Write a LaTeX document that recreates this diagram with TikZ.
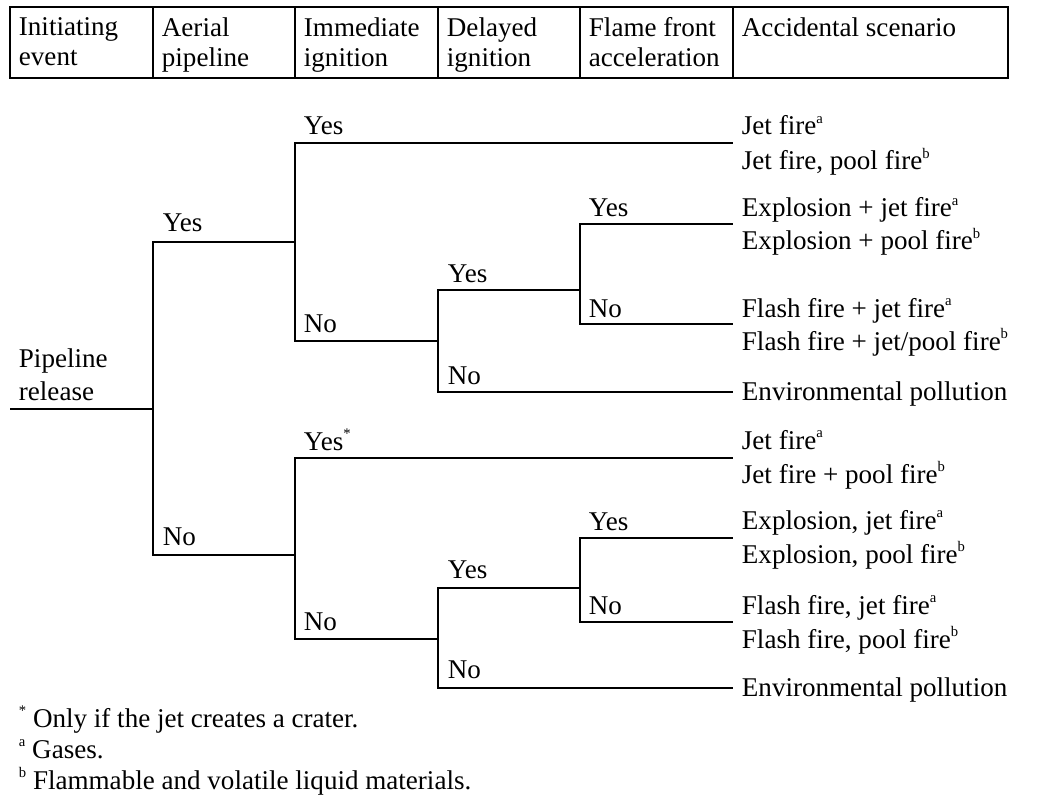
\documentclass[tikz,border=0pt]{standalone}
\usepackage{fontspec}
\setmainfont{Liberation Serif}
\newcommand{\supnote}[1]{\raisebox{0.9ex}{\fontsize{11}{11}\selectfont #1}}
\tikzset{every picture/.style={line width=1.4pt}}

\begin{document}
\begin{tikzpicture}[x=0.75pt,y=0.75pt,yscale=-1,xscale=1,
  every node/.style={inner sep=0pt, font=\fontsize{20.3}{22.5}\selectfont},
  head/.style={anchor=north west, align=left},
  lbl/.style={anchor=base west},
  scen/.style={anchor=base west}]
\useasboundingbox (0,0) rectangle (1037,798);

% Header table
\draw [line width=1.8pt] (10,7) rectangle (1008,78);
\foreach \cx in {153,295,438,580,733}
  \draw (\cx,7) -- (\cx,78);
\node (h1) [head] at (18,17) {Initiating\\event};
\node (h2) [head] at (161,17) {Aerial\\pipeline};
\node (h3) [head] at (303,17) {Immediate\\ignition};
\node (h4) [head] at (446,17) {Delayed\\ignition};
\node (h5) [head] at (588,17) {Flame front\\acceleration};
\node (h6) [head] at (741,17) {Accidental scenario};

% Branch points
\coordinate (root) at (10,409);
\coordinate (aer) at (153,409);
\coordinate (imm1) at (295,242);
\coordinate (imm2) at (295,555);
\coordinate (del1) at (438,341);
\coordinate (del2) at (438,639);
\coordinate (fla1) at (580,290);
\coordinate (fla2) at (580,588);
% End points
\coordinate (e1) at (733,143);
\coordinate (e2) at (733,224);
\coordinate (e3) at (733,324);
\coordinate (e4) at (733,392);
\coordinate (e5) at (733,458);
\coordinate (e6) at (733,538);
\coordinate (e7) at (733,622);
\coordinate (e8) at (733,688);

% Branches
\draw (root) -- (aer);
\draw (aer) |- (imm1);
\draw (aer) |- (imm2);
\draw (imm1) |- (e1);
\draw (imm1) |- (del1);
\draw (del1) |- (fla1);
\draw (del1) |- (e4);
\draw (fla1) |- (e2);
\draw (fla1) |- (e3);
\draw (imm2) |- (e5);
\draw (imm2) |- (del2);
\draw (del2) |- (fla2);
\draw (del2) |- (e8);
\draw (fla2) |- (e6);
\draw (fla2) |- (e7);

% Branch labels
\node (rl1) [lbl] at (18,367) {Pipeline};
\node (rl2) [lbl] at (18,400) {release};
\node (aY) [lbl] at ([shift={(9,-10)}]aer |- imm1) {Yes};
\node (aN) [lbl] at ([shift={(9,-10)}]aer |- imm2) {No};
\node (iY1) [lbl] at ([shift={(8,-8)}]imm1 |- e1) {Yes};
\node (iN1) [lbl] at ([shift={(8,-9)}]imm1 |- del1) {No};
\node (iY2) [lbl] at ([shift={(8,-8)}]imm2 |- e5) {Yes\supnote{*}};
\node (iN2) [lbl] at ([shift={(8,-9)}]imm2 |- del2) {No};
\node (dY1) [lbl] at ([shift={(9,-8)}]del1 |- fla1) {Yes};
\node (dN1) [lbl] at ([shift={(9,-8)}]del1 |- e4) {No};
\node (dY2) [lbl] at ([shift={(9,-10)}]del2 |- fla2) {Yes};
\node (dN2) [lbl] at ([shift={(9,-10)}]del2 |- e8) {No};
\node (fY1) [lbl] at ([shift={(8,-7)}]fla1 |- e2) {Yes};
\node (fN1) [lbl] at ([shift={(8,-7)}]fla1 |- e3) {No};
\node (fY2) [lbl] at ([shift={(8,-8)}]fla2 |- e6) {Yes};
\node (fN2) [lbl] at ([shift={(8,-8)}]fla2 |- e7) {No};

% Accidental scenarios
\node (s1a) [scen] at ([shift={(8,-8)}]e1) {Jet fire\supnote{a}};
\node (s1b) [scen] at ([shift={(8,27)}]e1) {Jet fire, pool fire\supnote{b}};
\node (s2a) [scen] at ([shift={(8,-7)}]e2) {Explosion + jet fire\supnote{a}};
\node (s2b) [scen] at ([shift={(8,26)}]e2) {Explosion + pool fire\supnote{b}};
\node (s3a) [scen] at ([shift={(8,-7)}]e3) {Flash fire + jet fire\supnote{a}};
\node (s3b) [scen] at ([shift={(8,26)}]e3) {Flash fire + jet/pool fire\supnote{b}};
\node (s4) [scen] at ([shift={(8,8)}]e4) {Environmental pollution};
\node (s5a) [scen] at ([shift={(8,-9)}]e5) {Jet fire\supnote{a}};
\node (s5b) [scen] at ([shift={(8,25)}]e5) {Jet fire + pool fire\supnote{b}};
\node (s6a) [scen] at ([shift={(8,-9)}]e6) {Explosion, jet fire\supnote{a}};
\node (s6b) [scen] at ([shift={(8,25)}]e6) {Explosion, pool fire\supnote{b}};
\node (s7a) [scen] at ([shift={(8,-8)}]e7) {Flash fire, jet fire\supnote{a}};
\node (s7b) [scen] at ([shift={(8,26)}]e7) {Flash fire, pool fire\supnote{b}};
\node (s8) [scen] at ([shift={(8,8)}]e8) {Environmental pollution};

% Footnotes
\node (fn1) [lbl] at (18,727) {\supnote{*}~Only if the jet creates a crater.};
\node (fn2) [lbl] at (18,758) {\supnote{a}~Gases.};
\node (fn3) [lbl] at (18,789) {\supnote{b}~Flammable and volatile liquid materials.};

\end{tikzpicture}
\end{document}
